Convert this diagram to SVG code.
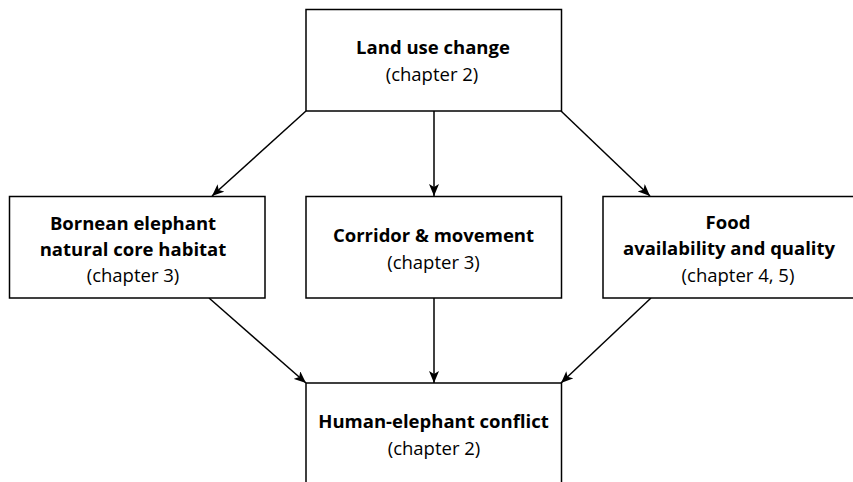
<svg xmlns="http://www.w3.org/2000/svg" width="853" height="482" viewBox="0 0 853 482">
  <style>
    .box { fill: #ffffff; stroke: #000000; stroke-width: 1.5; }
    .edge { fill: none; stroke: #000000; stroke-width: 1.5; marker-end: url(#arrow); }
    text { font-family: "Open Sans", "Noto Sans", sans-serif; font-size: 18.5px; fill: #000000; text-anchor: middle; }
    .b { font-weight: bold; }
  </style>
  <defs>
    <marker id="arrow" viewBox="0 0 12 10" refX="12" refY="5" markerWidth="12" markerHeight="10" markerUnits="userSpaceOnUse" orient="auto">
      <path d="M0,0 L12,5 L0,10 L3,5 Z" fill="#000000"/>
    </marker>
  </defs>
  <rect width="853" height="482" fill="#ffffff"/>
  <g id="connectors">
    <line class="edge" x1="306" y1="111" x2="212" y2="196"/>
    <line class="edge" x1="434" y1="111" x2="434" y2="196"/>
    <line class="edge" x1="561" y1="111" x2="650" y2="196"/>
    <line class="edge" x1="209" y1="298" x2="306" y2="383"/>
    <line class="edge" x1="434" y1="298" x2="434" y2="383"/>
    <line class="edge" x1="651" y1="298" x2="561" y2="383"/>
  </g>
  <g id="land-use">
    <rect class="box" x="306" y="9.5" width="255.5" height="101.5"/>
    <text class="b" x="433" y="54">Land use change</text>
    <text x="432" y="81">(chapter 2)</text>
  </g>
  <g id="habitat">
    <rect class="box" x="9.5" y="196.5" width="255.5" height="101.5"/>
    <text class="b" x="133" y="230">Bornean elephant</text>
    <text class="b" x="133" y="256">natural core habitat</text>
    <text x="133" y="282">(chapter 3)</text>
  </g>
  <g id="corridor">
    <rect class="box" x="306" y="196.5" width="255.5" height="101.5"/>
    <text class="b" x="433.5" y="242">Corridor &amp; movement</text>
    <text x="433.5" y="269">(chapter 3)</text>
  </g>
  <g id="food">
    <rect class="box" x="603" y="196.5" width="260" height="101.5"/>
    <text class="b" x="728" y="229">Food</text>
    <text class="b" x="729" y="255">availability and quality</text>
    <text x="738" y="282">(chapter 4, 5)</text>
  </g>
  <g id="conflict">
    <rect class="box" x="306" y="383" width="255.5" height="110"/>
    <text class="b" x="433.5" y="428">Human-elephant conflict</text>
    <text x="434" y="455">(chapter 2)</text>
  </g>
</svg>
